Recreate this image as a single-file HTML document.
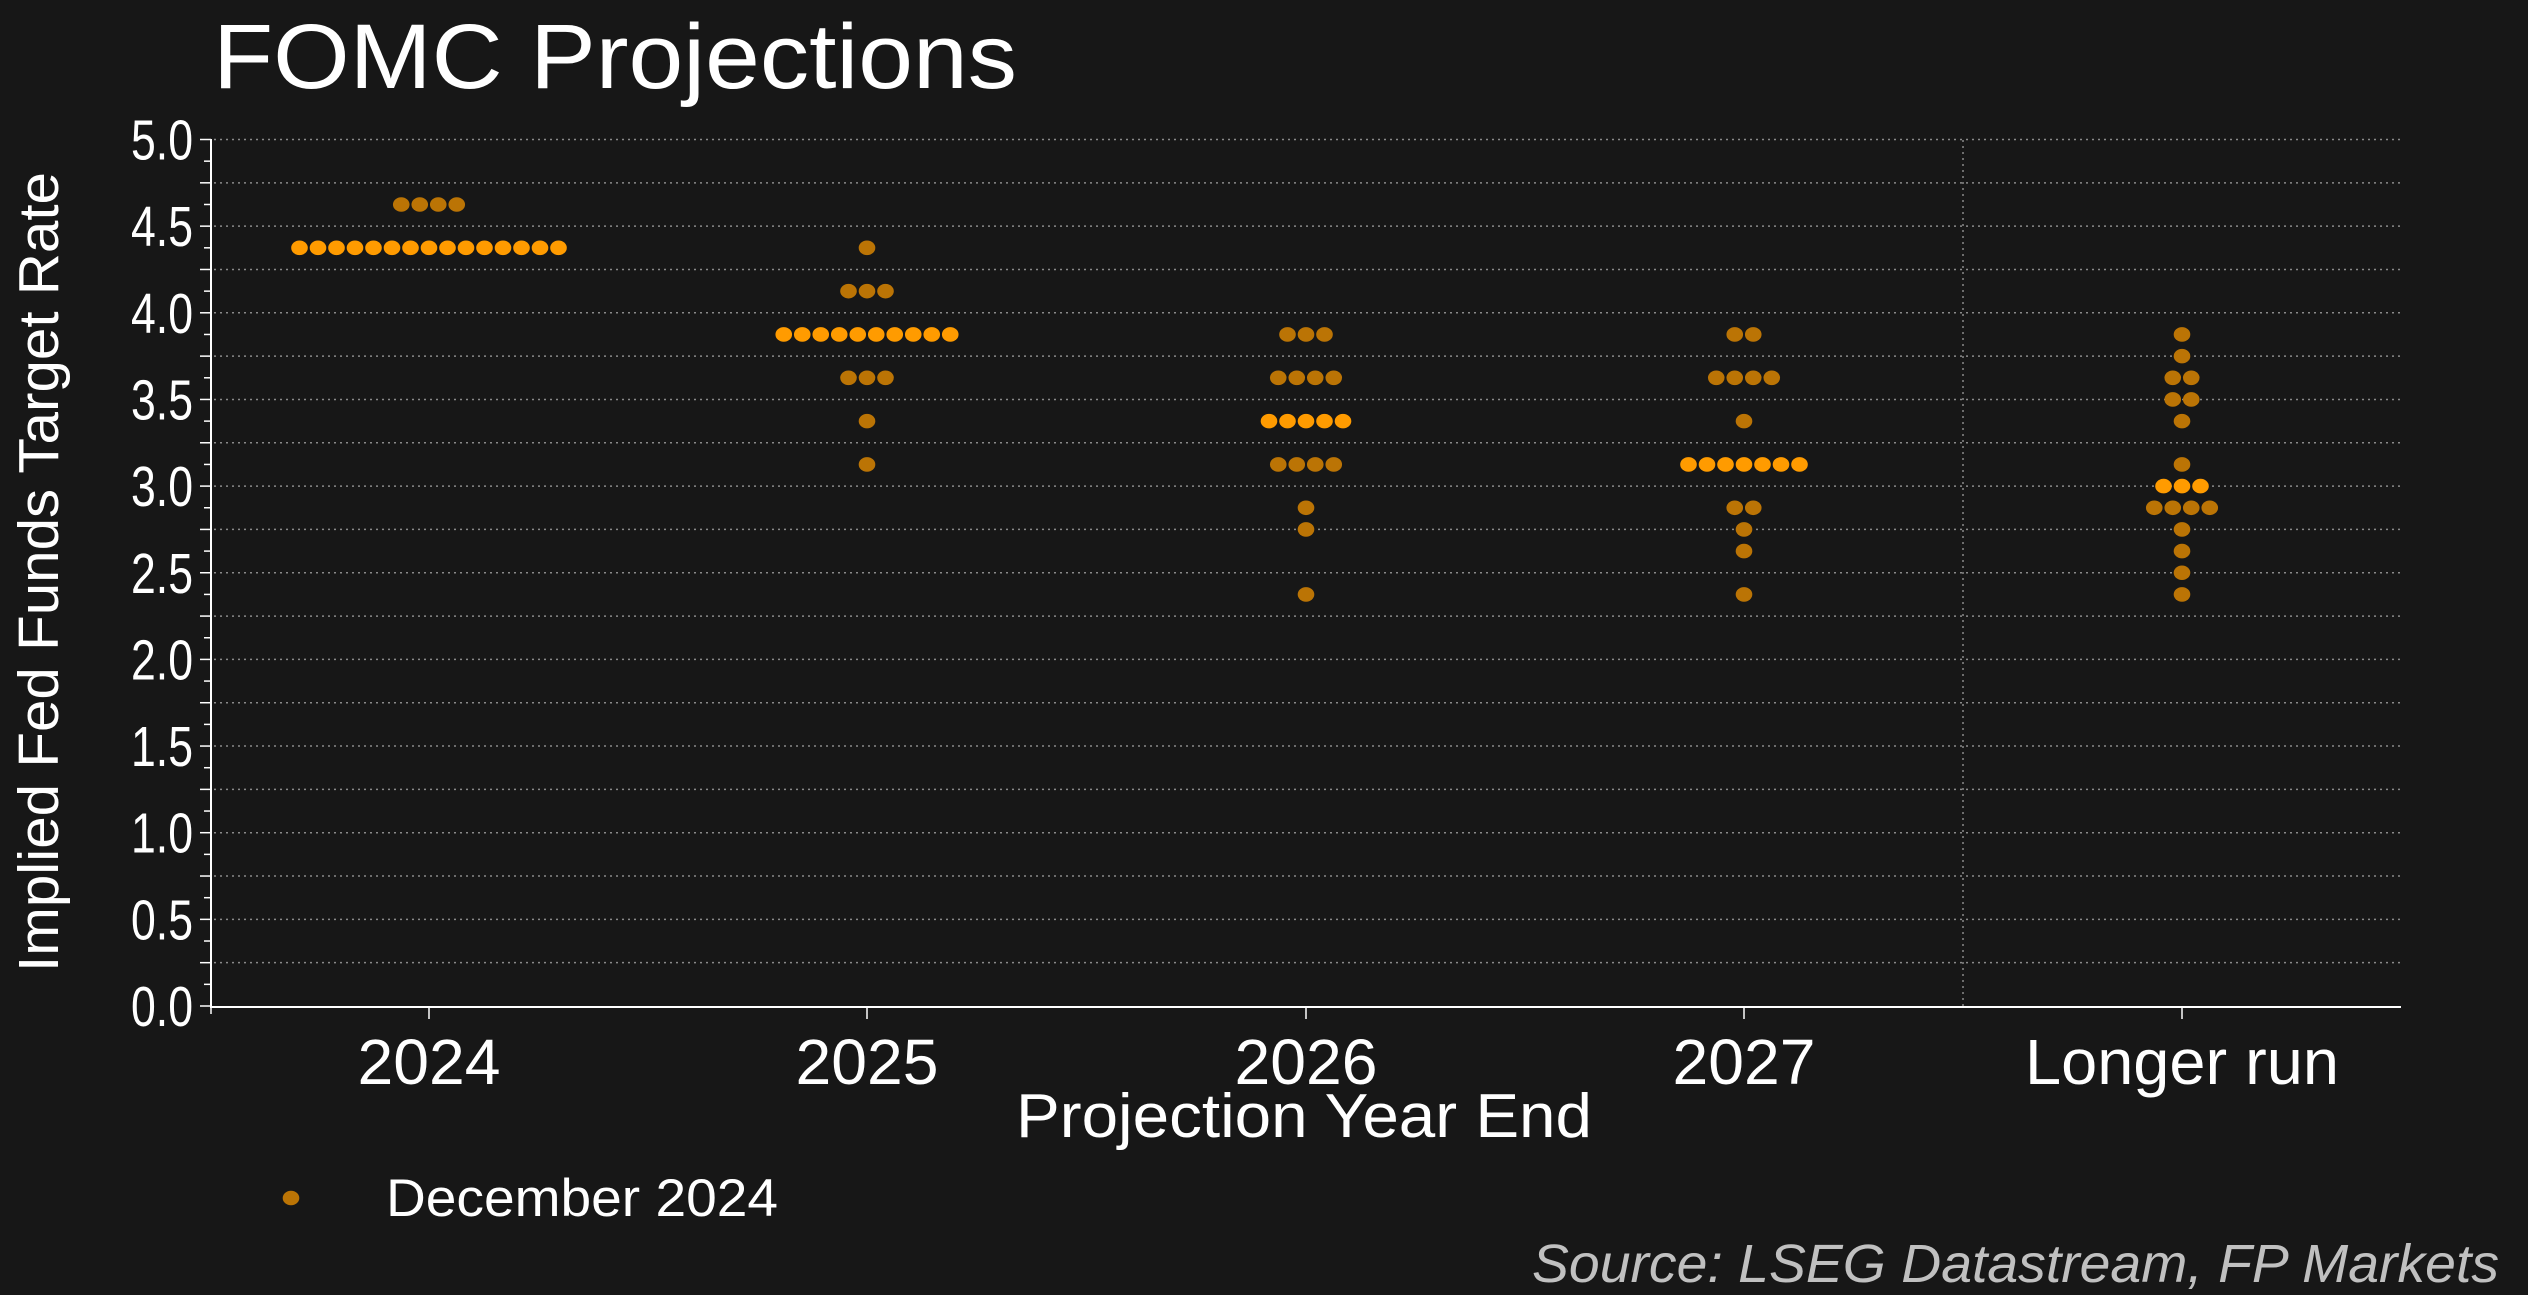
<!DOCTYPE html>
<html><head><meta charset="utf-8"><style>
html,body{margin:0;padding:0;background:#171717;}
svg{display:block;}
text{font-family:"Liberation Sans",Arial,sans-serif;fill:#fff;}
</style></head><body>
<svg id="s" width="2528" height="1295" viewBox="0 0 2528 1295" xmlns="http://www.w3.org/2000/svg">
<rect width="2528" height="1295" fill="#171717"/>
<g id="grid"></g>
<line x1="1963" y1="140" x2="1963" y2="1006" stroke="#8a8a8a" stroke-width="1.5" stroke-dasharray="2,4"/>
<g id="dots"></g>
<line x1="211" y1="139" x2="211" y2="1007" stroke="#fff" stroke-width="2"/>
<line x1="210" y1="1007" x2="2401" y2="1007" stroke="#fff" stroke-width="2"/>
<g id="ticks"></g>
<text x="213" y="88" font-size="92" textLength="804" lengthAdjust="spacingAndGlyphs">FOMC Projections</text>
<text transform="translate(58,572) rotate(-90)" text-anchor="middle" font-size="57" textLength="800" lengthAdjust="spacingAndGlyphs">Implied Fed Funds Target Rate</text>
<text x="429" y="1084" text-anchor="middle" font-size="64" textLength="143" lengthAdjust="spacingAndGlyphs">2024</text>
<text x="867" y="1084" text-anchor="middle" font-size="64" textLength="143" lengthAdjust="spacingAndGlyphs">2025</text>
<text x="1306" y="1084" text-anchor="middle" font-size="64" textLength="143" lengthAdjust="spacingAndGlyphs">2026</text>
<text x="1744" y="1084" text-anchor="middle" font-size="64" textLength="143" lengthAdjust="spacingAndGlyphs">2027</text>
<text x="2182" y="1084" text-anchor="middle" font-size="64" textLength="314" lengthAdjust="spacingAndGlyphs">Longer run</text>
<text x="1304" y="1137" text-anchor="middle" font-size="62" textLength="576" lengthAdjust="spacingAndGlyphs">Projection Year End</text>
<ellipse cx="291" cy="1198" rx="8.3" ry="7.3" fill="#bb7405"/>
<text x="386" y="1216" font-size="53" textLength="392" lengthAdjust="spacingAndGlyphs">December 2024</text>
<text x="2499" y="1282" text-anchor="end" font-size="54" font-style="italic" style="fill:#c0c0c0" textLength="967" lengthAdjust="spacingAndGlyphs">Source: LSEG Datastream, FP Markets</text>
</svg>
<script>
var NS="http://www.w3.org/2000/svg";
function Y(v){return 1006-v*173.3;}
function el(p,n,a){var e=document.createElementNS(NS,n);for(var k in a)e.setAttribute(k,a[k]);p.appendChild(e);return e;}
var g=document.getElementById('grid'),t=document.getElementById('ticks'),d=document.getElementById('dots');
for(var i=1;i<=20;i++){var y=Y(i*0.25);el(g,'line',{x1:214,x2:2400,y1:y,y2:y,stroke:'#8a8a8a','stroke-width':1.5,'stroke-dasharray':'2,4'});}
for(var i=0;i<=40;i++){var y=Y(i*0.125);el(t,'line',{x1:i%2==0?200:204,x2:211,y1:y,y2:y,stroke:'#fff','stroke-width':1.5});}
for(var i=0;i<=10;i++){var y=Y(i*0.5);var tx=el(t,'text',{x:193,y:y+20,'text-anchor':'end','font-size':57,textLength:62,lengthAdjust:'spacingAndGlyphs'});tx.textContent=(i*0.5).toFixed(1);}
var xs=[429,867,1306,1744,2182];
el(t,'line',{x1:211,x2:211,y1:1007,y2:1014,stroke:'#fff','stroke-width':1.5});
xs.forEach(function(x){el(t,'line',{x1:x,x2:x,y1:1007,y2:1019,stroke:'#fff','stroke-width':1.5});});
var data=[
 [[4.625,4,0],[4.375,15,1]],
 [[4.375,1,0],[4.125,3,0],[3.875,10,1],[3.625,3,0],[3.375,1,0],[3.125,1,0]],
 [[3.875,3,0],[3.625,4,0],[3.375,5,1],[3.125,4,0],[2.875,1,0],[2.75,1,0],[2.375,1,0]],
 [[3.875,2,0],[3.625,4,0],[3.375,1,0],[3.125,7,1],[2.875,2,0],[2.75,1,0],[2.625,1,0],[2.375,1,0]],
 [[3.875,1,0],[3.75,1,0],[3.625,2,0],[3.5,2,0],[3.375,1,0],[3.125,1,0],[3.0,3,1],[2.875,4,0],[2.75,1,0],[2.625,1,0],[2.5,1,0],[2.375,1,0]]
];
data.forEach(function(col,ci){col.forEach(function(r){var n=r[1],sp=18.5;for(var k=0;k<n;k++){var x=xs[ci]+(k-(n-1)/2)*sp;el(d,'ellipse',{cx:x,cy:Y(r[0]),rx:8.3,ry:7.3,fill:r[2]?'#ff9b00':'#bb7405'});}});});
</script>
</body></html>
